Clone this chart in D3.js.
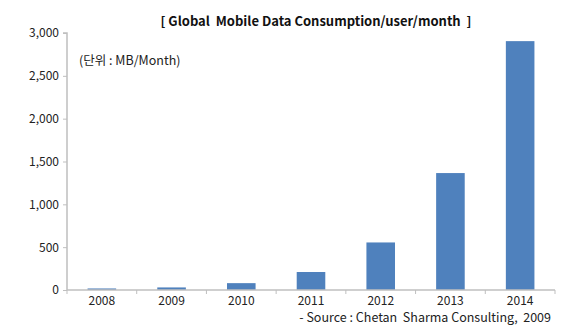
<!DOCTYPE html>
<html><head><meta charset="utf-8">
<script src="https://d3js.org/d3.v7.min.js"></script>
<style>body{margin:0;background:#fff}svg{display:block}text{font-family:"Noto Sans CJK KR","Noto Sans",sans-serif}</style>
</head><body>
<script>
const categories = ["2008","2009","2010","2011","2012","2013","2014"];
const values = [18, 30, 80, 210, 555, 1365, 2905];
const yTicks = [0, 500, 1000, 1500, 2000, 2500, 3000];

const W = 569, H = 333;
const svg = d3.select("body").append("svg").attr("width", W).attr("height", H);
const x0 = 67, x1 = 555, yTop = 33, yBot = 290;
const x = d3.scaleBand().domain(categories).range([x0, x1]).paddingInner(0.59).paddingOuter(0.295);
const y = d3.scaleLinear().domain([0, 3000]).range([yBot, yTop]);
const axisColor = "#bfbfbf";

svg.selectAll("rect.bar").data(values).join("rect")
  .attr("x", (d,i) => x(categories[i]))
  .attr("width", x.bandwidth())
  .attr("y", d => y(d))
  .attr("height", d => yBot - y(d))
  .attr("fill", "#4f81bd");

// y axis
const ya = svg.append("g").attr("transform", `translate(${x0},0)`)
  .call(d3.axisLeft(y).tickValues(yTicks).tickSize(4).tickPadding(4).tickFormat(d3.format(",")));
ya.select(".domain").attr("stroke", axisColor).attr("stroke-width", 1.5).attr("d", `M-4,${yTop}H0V${yBot}`);
ya.selectAll(".tick line").attr("stroke", axisColor);
ya.selectAll(".tick text").attr("fill", "#222").style("font-size", "12px");

// x axis
const xb = d3.scaleLinear().domain([0, categories.length]).range([x0, x1]);
const xa = svg.append("g").attr("transform", `translate(0,${yBot})`)
  .call(d3.axisBottom(x).tickSize(0).tickPadding(6));
xa.select(".domain").attr("stroke", axisColor).attr("stroke-width", 1.5).attr("d", `M${x0},0H${x1}`);
xa.selectAll(".tick text").attr("fill", "#222").style("font-size", "12px");
svg.append("g").selectAll("line").data(d3.range(categories.length + 1)).join("line")
  .attr("x1", d => xb(d)).attr("x2", d => xb(d))
  .attr("y1", yBot).attr("y2", yBot + 4).attr("stroke", axisColor);

svg.append("text").attr("x", 316).attr("y", 26).attr("text-anchor", "middle")
  .style("font-size", "13px").style("font-weight", "bold").style("white-space", "pre").attr("fill", "#111")
  .text("[ Global  Mobile Data Consumption/user/month  ]");
svg.append("text").attr("x", 79).attr("y", 65)
  .style("font-size", "12.5px").attr("fill", "#222")
  .text("(단위 : MB/Month)");
svg.append("text").attr("x", 551).attr("y", 322).attr("text-anchor", "end")
  .style("font-size", "12.5px").style("white-space", "pre").attr("fill", "#222")
  .text("- Source : Chetan  Sharma Consulting,  2009");
</script>
</body></html>
